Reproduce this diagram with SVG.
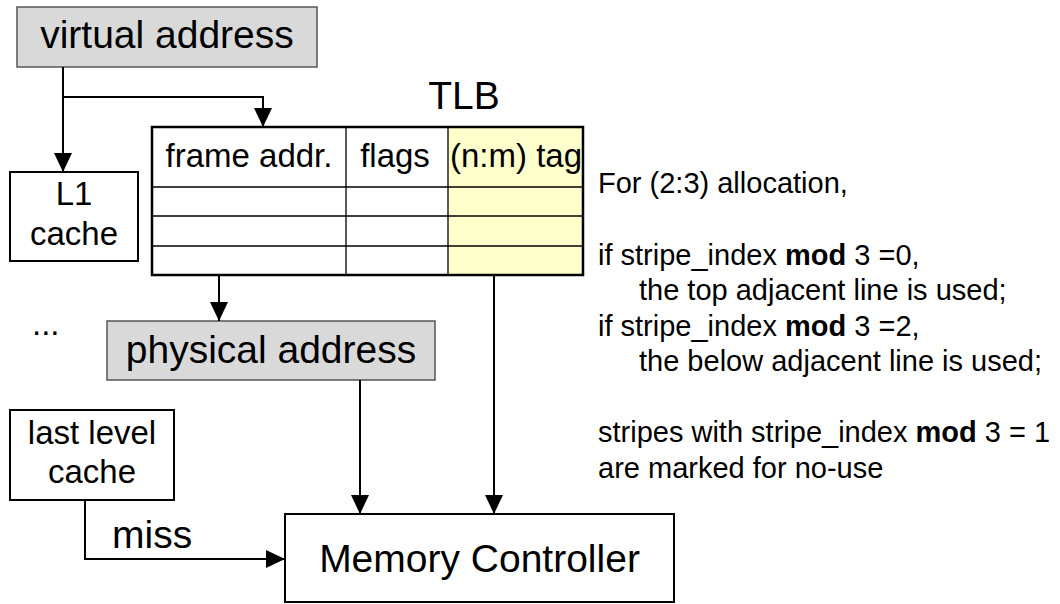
<svg xmlns="http://www.w3.org/2000/svg" width="1060" height="604" viewBox="0 0 1060 604">
<style>
text{font-family:"Liberation Sans",Arial,sans-serif;fill:#000}
.big{font-size:39px}
.mid{font-size:33px}
.note{font-size:29px}
.gray{fill:#d9d9d9;stroke:#555;stroke-width:1.5}
.box{fill:#fff;stroke:#000;stroke-width:2}
.thin{stroke:#000;stroke-width:1.3;fill:none}
.conn{stroke:#000;stroke-width:2;fill:none}
</style>
<defs>
<marker id="ah" markerUnits="userSpaceOnUse" markerWidth="20" markerHeight="20" refX="19" refY="9" orient="auto">
<path d="M0,0 L19,9 L0,18 z" fill="#000"/>
</marker>
</defs>
<rect width="1060" height="604" fill="#fff"/>

<g id="virtual-address">
<rect class="gray" x="17" y="7" width="300" height="60"/>
<text class="big" x="167" y="48" text-anchor="middle">virtual address</text>
</g>

<g id="l1-cache">
<rect class="box" x="10" y="172" width="128" height="89"/>
<text class="mid" x="74" y="205" text-anchor="middle">L1</text>
<text class="mid" x="74" y="245" text-anchor="middle">cache</text>
</g>

<g id="tlb">
<text class="big" x="464" y="109" text-anchor="middle">TLB</text>
<rect x="448" y="127" width="135" height="148" fill="#ffffcc"/>
<line class="thin" x1="152" y1="187" x2="583" y2="187"/>
<line class="thin" x1="152" y1="216" x2="583" y2="216"/>
<line class="thin" x1="152" y1="246" x2="583" y2="246"/>
<line class="thin" x1="346" y1="127" x2="346" y2="275"/>
<line class="thin" x1="448" y1="127" x2="448" y2="275" stroke="#444"/>
<rect x="152" y="127" width="431" height="148" fill="none" stroke="#000" stroke-width="2.5"/>
<text class="mid" x="249" y="167" text-anchor="middle">frame addr.</text>
<text class="mid" x="395" y="167" text-anchor="middle">flags</text>
<text class="mid" x="516" y="167" text-anchor="middle">(n:m) tag</text>
</g>

<g id="dots">
<text class="mid" x="32" y="335">...</text>
</g>

<g id="physical-address">
<rect class="gray" x="107" y="321" width="328" height="59"/>
<text class="big" x="271" y="363" text-anchor="middle">physical address</text>
</g>

<g id="last-level-cache">
<rect class="box" x="10" y="410" width="164" height="90"/>
<text class="mid" x="92" y="444" text-anchor="middle">last level</text>
<text class="mid" x="92" y="483" text-anchor="middle">cache</text>
</g>

<g id="memory-controller">
<rect class="box" x="285" y="514" width="389" height="88"/>
<text class="big" x="479.5" y="572" text-anchor="middle">Memory Controller</text>
</g>

<g id="connectors">
<line class="conn" x1="63" y1="67" x2="63" y2="172" marker-end="url(#ah)"/>
<polyline class="conn" points="63,97 263,97 263,127" marker-end="url(#ah)"/>
<line class="conn" x1="219" y1="276" x2="219" y2="321" marker-end="url(#ah)"/>
<line class="conn" x1="360" y1="380" x2="360" y2="514" marker-end="url(#ah)"/>
<line class="conn" x1="494" y1="276" x2="494" y2="514" marker-end="url(#ah)"/>
<polyline class="conn" points="85,500 85,559 285,559" marker-end="url(#ah)"/>
<text class="big" x="112" y="548">miss</text>
</g>

<g id="notes">
<text class="note" x="598" y="193">For (2:3) allocation,</text>
<text class="note" x="598" y="264.5">if stripe_index <tspan font-weight="bold">mod</tspan> 3 =0,</text>
<text class="note" x="639" y="300">the top adjacent line is used;</text>
<text class="note" x="598" y="335.5">if stripe_index <tspan font-weight="bold">mod</tspan> 3 =2,</text>
<text class="note" x="639" y="371">the below adjacent line is used;</text>
<text class="note" x="598" y="442">stripes with stripe_index <tspan font-weight="bold">mod</tspan> 3 = 1</text>
<text class="note" x="598" y="477.5">are marked for no-use</text>
</g>
</svg>
